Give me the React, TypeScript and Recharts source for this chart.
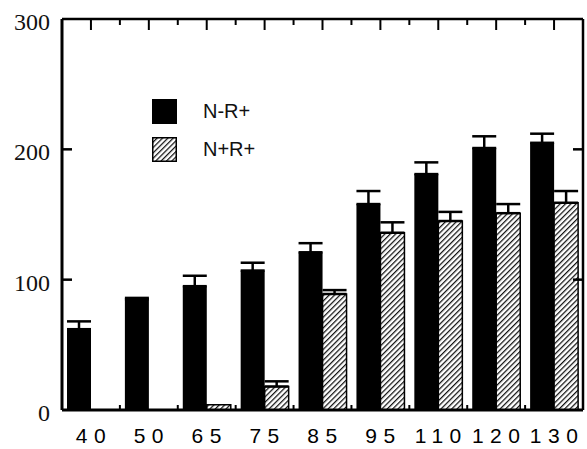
import { BarChart, Bar, XAxis, YAxis, ErrorBar } from "recharts";

const categories = ["40", "50", "65", "75", "85", "95", "110", "120", "130"];
const nMinusR = [62, 85, 95, 107, 121, 158, 181, 201, 205];
const nMinusRErr = [6, 1, 8, 6, 7, 10, 9, 9, 7];
const nPlusR = [0, 0, 4, 18, 89, 136, 145, 151, 159];
const nPlusRErr = [null, null, null, 4, 3, 8, 7, 7, 9];
const yTicks = [0, 100, 200, 300];
const seriesNames = ["N-R+", "N+R+"];

const data = categories.map((cat, i) => ({
  cat,
  a: nMinusR[i],
  aErr: [0, nMinusRErr[i]],
  b: nPlusR[i],
  bErr: nPlusRErr[i] == null ? null : [0, nPlusRErr[i]],
}));

const SANS = "'Liberation Sans', Arial, sans-serif";
const SERIF = "'Liberation Serif', 'Times New Roman', serif";

const half = (props: any) =>
  props.payload?.offset ?? props.width / props.visibleTicksCount / 2;

const LeftTick = (props: any) => {
  const { x, y, payload } = props;
  const v = payload.value;
  return (
    <g>
      <text x={x - 12} y={y + 11} textAnchor="end" fontFamily={SERIF} fontSize={24} fill="#111">
        {v}
      </text>
      {v > 0 && v < 300 && <line x1={x} x2={x + 10} y1={y} y2={y} stroke="#000" strokeWidth={2.5} />}
    </g>
  );
};

const RightTick = (props: any) => {
  const { x, y } = props;
  return <line x1={x} x2={x - 10} y1={y} y2={y} stroke="#000" strokeWidth={2.5} />;
};

const TopTick = (props: any) => {
  const { x, y, index } = props;
  const h = half(props);
  return (
    <g>
      <line x1={x} x2={x} y1={y} y2={y + 11} stroke="#000" strokeWidth={2} />
      {index > 0 && <line x1={x - h} x2={x - h} y1={y} y2={y + 6} stroke="#000" strokeWidth={2} />}
    </g>
  );
};

const BottomTick = (props: any) => {
  const { x, y, index, payload } = props;
  const h = half(props);
  return (
    <g>
      {index > 0 && <line x1={x - h} x2={x - h} y1={y} y2={y - 5} stroke="#000" strokeWidth={2} />}
      <text x={x} dx={3} y={y + 33} textAnchor="middle" fontFamily={SANS} fontSize={21}
        style={{ letterSpacing: 6.5 }} fill="#000">
        {payload.value}
      </text>
    </g>
  );
};

const Hatch = ({ id }: { id: string }) => (
  <pattern id={id} patternUnits="userSpaceOnUse" width={3.8} height={3.8} patternTransform="rotate(45)">
    <rect width={3.8} height={3.8} fill="#fff" />
    <line x1={0} y1={0} x2={0} y2={3.8} stroke="#111" strokeWidth={2.5} />
  </pattern>
);

export default function App() {
  return (
    <div style={{ position: "absolute", left: 0, top: 0, width: 587, height: 449, background: "#fff" }}>
      <BarChart width={587} height={449} data={data} barCategoryGap={5} barGap={0}
        margin={{ top: 18, right: 3, left: 0, bottom: 0 }}>
        <defs>
          <Hatch id="hatch" />
        </defs>
        <XAxis dataKey="cat" height={39} tickSize={0} tickMargin={0} tickLine={false}
          axisLine={{ stroke: "#000", strokeWidth: 3 }} tick={<BottomTick />} interval={0} />
        <XAxis xAxisId="top" dataKey="cat" orientation="top" height={1} tickSize={0} tickMargin={0}
          tickLine={false} axisLine={{ stroke: "#000", strokeWidth: 2.5 }} tick={<TopTick />} interval={0} />
        <YAxis domain={[0, 300]} ticks={yTicks} width={62} tickSize={0} tickMargin={0} tickLine={false}
          axisLine={{ stroke: "#000", strokeWidth: 3 }} tick={<LeftTick />} interval={0} />
        <YAxis yAxisId="r" orientation="right" domain={[0, 300]} ticks={[100, 200]} width={1}
          allowDataOverflow tickSize={0} tickMargin={0} tickLine={false}
          axisLine={{ stroke: "#000", strokeWidth: 2.5 }} tick={<RightTick />} interval={0} />
        <Bar dataKey="a" name={seriesNames[0]} fill="#000" isAnimationActive={false}>
          <ErrorBar dataKey="aErr" width={12} strokeWidth={2.5} stroke="#000" direction="y" />
        </Bar>
        <Bar dataKey="b" name={seriesNames[1]} fill="url(#hatch)" stroke="#000" strokeWidth={1.5}
          isAnimationActive={false}>
          <ErrorBar dataKey="bErr" width={12} strokeWidth={2.5} stroke="#000" direction="y" />
        </Bar>
      </BarChart>
      <div style={{ position: "absolute", left: 152, top: 99, fontFamily: SANS, fontSize: 20, color: "#111" }}>
        <div style={{ display: "flex", alignItems: "center", height: 25 }}>
          <div style={{ width: 25, height: 25, background: "#000" }} />
          <span style={{ marginLeft: 26 }}>{seriesNames[0]}</span>
        </div>
        <div style={{ display: "flex", alignItems: "center", height: 25, marginTop: 13 }}>
          <svg width={25} height={25}>
            <defs>
              <Hatch id="hatchLegend" />
            </defs>
            <rect x={0.75} y={0.75} width={23.5} height={23.5} fill="url(#hatchLegend)" stroke="#000" strokeWidth={1.5} />
          </svg>
          <span style={{ marginLeft: 26 }}>{seriesNames[1]}</span>
        </div>
      </div>
    </div>
  );
}
